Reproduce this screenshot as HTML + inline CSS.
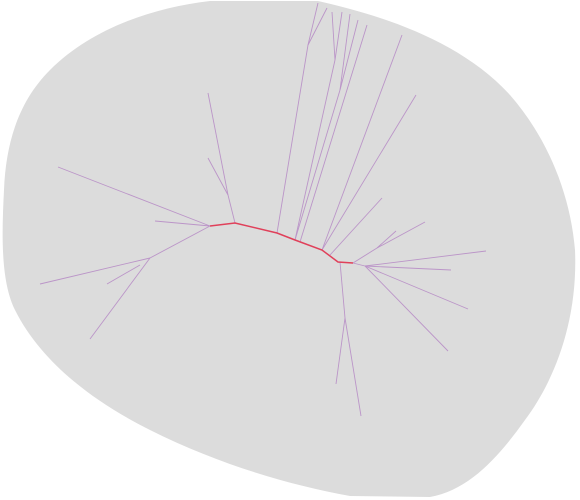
<!DOCTYPE html>
<html><head><meta charset="utf-8"><style>
html,body{margin:0;padding:0;background:#fff;width:580px;height:500px;overflow:hidden}
svg{display:block}
</style></head><body>
<svg width="580" height="500">
<path fill="#dcdcdc" d="M210,1 L318,1 C380,15 460,40 510,95 C545,135 570,190 575,250 C578,320 555,380 525,420 C500,455 470,490 430,497 L350,496 C290,485 220,465 150,430 C90,400 40,360 15,310 C0,280 2,230 4,190 C6,140 20,100 50,70 C90,30 150,8 210,1 Z"/>
<g id="edges" stroke="#bb95c8" stroke-width="0.9" fill="none"></g>
<g id="backbone" stroke="#e0405a" stroke-width="1.5" fill="none"></g>
</svg>
<script>
const backboneNodes=[[210,226],[235,223],[277,233],[295,240],[322,250],[338,262],[353,263]];
const branchEdges=[
[[235,223],[228,195]],[[228,195],[208,93]],[[228,195],[208,158]],
[[210,226],[155,221]],[[210,226],[58,167]],[[210,226],[150,258]],[[150,258],[40,284]],[[150,258],[90,339]],[[140,265],[107,284]],
[[277,233],[308,45]],[[308,45],[318,3]],[[308,45],[327,8]],
[[295,240],[335,60]],[[335,60],[332,12]],[[335,60],[342,12]],
[[295,240],[340,90]],[[340,90],[350,14]],[[340,90],[358,20]],
[[300,242],[367,25]],[[322,250],[402,35]],[[322,250],[416,95]],[[330,255],[382,198]],
[[340,262],[345,318]],[[345,318],[336,384]],[[345,318],[361,416]],
[[353,263],[365,266]],[[365,266],[486,251]],[[365,266],[451,270]],[[365,266],[468,309]],[[365,266],[448,351]],
[[353,263],[377,248]],[[377,248],[425,222]],[[377,248],[396,231]]
];
const ns='http://www.w3.org/2000/svg';
const eg=document.getElementById('edges');
branchEdges.forEach(e=>{
  const l=document.createElementNS(ns,'line');
  l.setAttribute('x1',e[0][0]);l.setAttribute('y1',e[0][1]);
  l.setAttribute('x2',e[1][0]);l.setAttribute('y2',e[1][1]);
  
  
  eg.appendChild(l);
});
const bg=document.getElementById('backbone');
const p=document.createElementNS(ns,'polyline');
p.setAttribute('points',backboneNodes.map(n=>n.join(',')).join(' '));


bg.appendChild(p);
</script>
</body></html>
